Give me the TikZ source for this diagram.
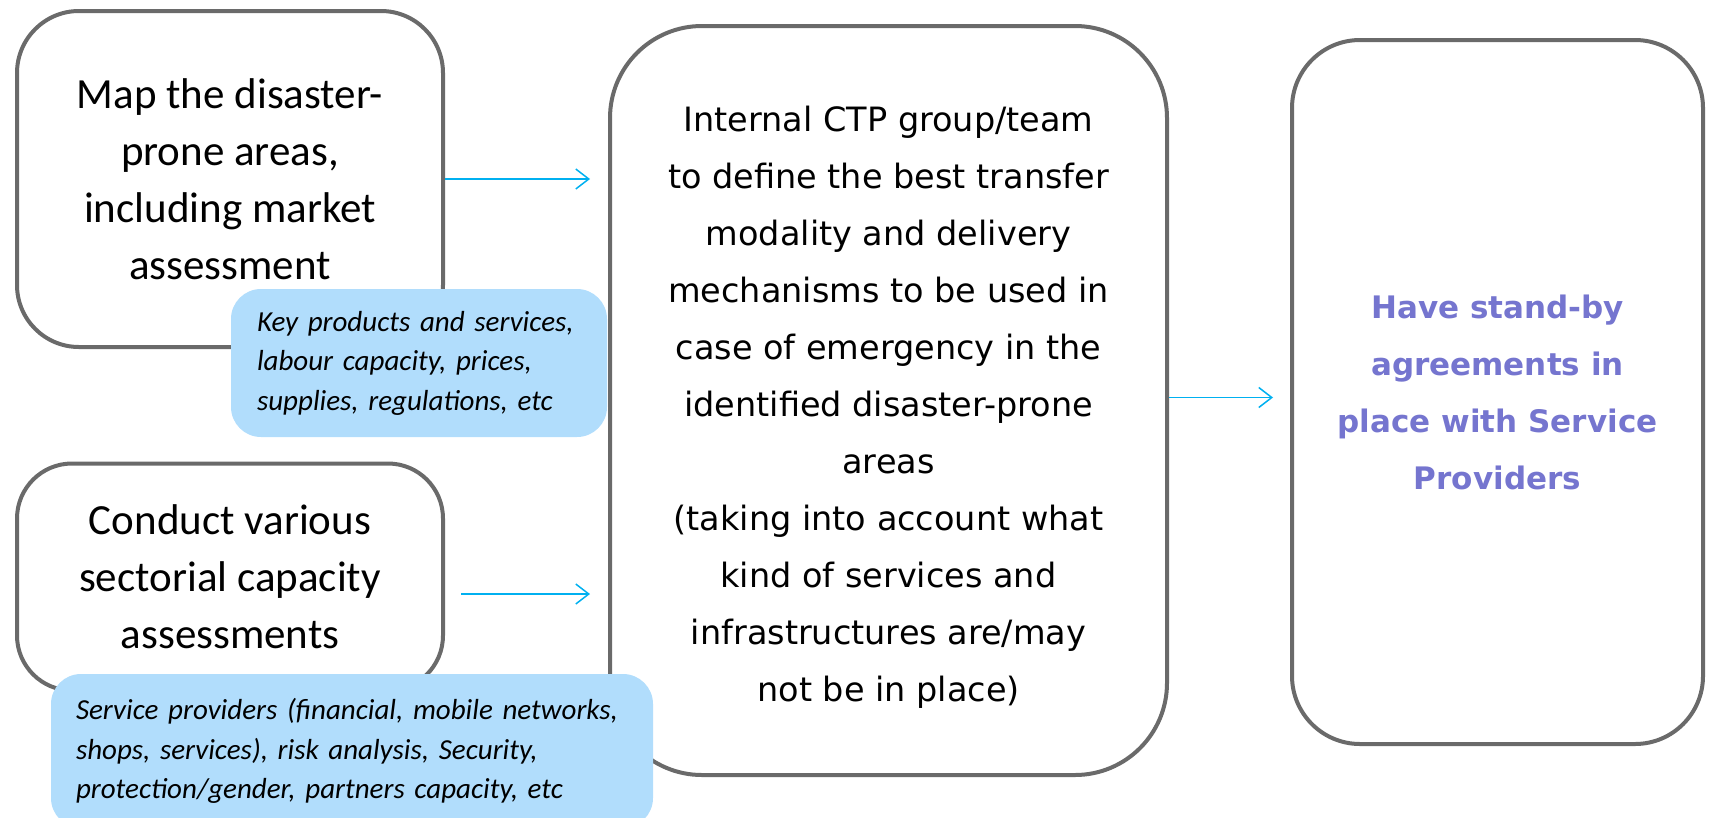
\documentclass[tikz,border=0pt]{standalone}
\usepackage{fontspec}
\setmainfont{Carlito}
\newfontfamily\dejavu{DejaVu Sans}
\usetikzlibrary{arrows.meta}
\definecolor{boxgray}{HTML}{6A6A6A}
\definecolor{notefill}{HTML}{B1DDFC}
\definecolor{arrcyan}{HTML}{00B0F0}
\definecolor{txtblue}{RGB}{117,117,207}
\tikzset{
  stepbox/.style={draw=boxgray, line width=4pt, fill=white, rectangle, inner sep=0pt, align=center},
  notebox/.style={fill=notefill, rectangle, rounded corners=30pt, inner sep=0pt, align=left,
                  font=\fontsize{29}{39.5}\selectfont\itshape},
  arr/.style={draw=arrcyan, line width=1.5pt, -{Straight Barb[length=13pt,width=20pt,line width=1.5pt]}}
}
\begin{document}
\begin{tikzpicture}[x=1pt,y=-1pt]
\useasboundingbox (0,0) rectangle (1712,817);
% main boxes
\node[stepbox, rounded corners=62pt, minimum width=426pt, minimum height=336pt,
      font=\fontsize{43}{57}\selectfont] (map) at (230,179)
  {Map the disaster-\\prone areas,\\including market\\assessment};
\node[stepbox, rounded corners=55pt, minimum width=426pt, minimum height=227pt,
      font=\fontsize{43}{57}\selectfont] (conduct) at (230,577)
  {Conduct various\\sectorial capacity\\assessments};
\node[stepbox, rounded corners=92pt, minimum width=557pt, minimum height=749pt] (ctp) at (888.5,400.5) {};
\node[align=center, inner sep=0pt, font=\dejavu\fontsize{33.5}{57}\selectfont] (ctptext) at ([yshift=-7pt]ctp.center)
  {Internal CTP group/team\\to define the best transfer\\modality and delivery\\mechanisms to be used in\\case of emergency in the\\identified disaster-prone\\areas\\(taking into account what\\kind of services and\\infrastructures are/may\\not be in place)};
\node[stepbox, rounded corners=68pt, minimum width=411pt, minimum height=704pt,
      font=\dejavu\bfseries\fontsize{31}{57}\selectfont, text=txtblue] (agree) at (1497.5,392)
  {Have stand-by\\agreements in\\place with Service\\Providers};
% notes
\node[notebox, minimum width=376pt, minimum height=148pt, text width=324pt] (note1) at (419,363)
  {Key products and services,\\labour capacity, prices,\\supplies, regulations, etc};
\node[notebox, minimum width=602pt, minimum height=154pt, text width=552pt] (note2) at (352,751)
  {Service providers (financial, mobile networks,\\shops, services), risk analysis, Security,\\protection/gender, partners capacity, etc};
% connectors
\coordinate (a1e) at ([xshift=-18pt]map.east -| ctp.west);
\draw[arr] (map.east) -- (a1e);
\coordinate (a2s) at (461,594);
\coordinate (a2e) at (a2s -| a1e);
\draw[arr] (a2s) -- (a2e);
\coordinate (a3s) at ([yshift=3pt]ctp.east);
\coordinate (a3e) at ([xshift=-17pt]a3s -| agree.west);
\draw[arr] (a3s) -- (a3e);
\end{tikzpicture}
\end{document}
